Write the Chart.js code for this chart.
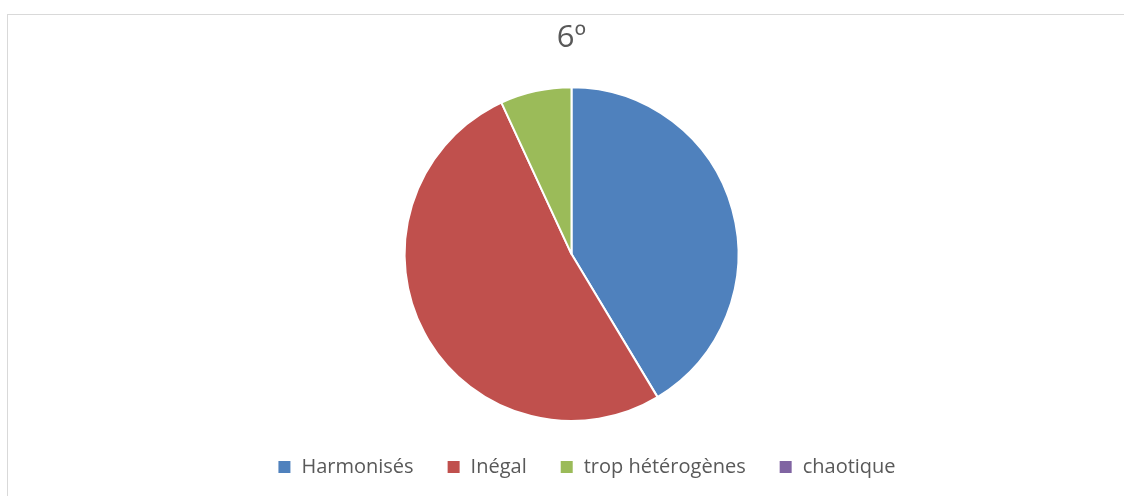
<!DOCTYPE html>
<html>
<head>
<meta charset="utf-8">
<script src="https://cdn.jsdelivr.net/npm/chart.js@4/dist/chart.umd.min.js"></script>
<style>
    html, body { margin: 0; padding: 0; background: #fff; }
    body { width: 1124px; height: 496px; position: relative; overflow: hidden; }
    #cadre { position: absolute; left: 7px; top: 14px; width: 1130px; height: 500px; border: 1px solid #d9d9d9; box-sizing: border-box; }
    #zone { position: absolute; left: 0; top: 0; width: 1124px; height: 496px; }
</style>
</head>
<body>
<div id="cadre"></div>
<div id="zone"><canvas id="chartNiveau"></canvas></div>
<script>
// Données
const categories = ['Harmonisés', 'Inégal', 'trop hétérogènes', 'chaotique'];
const effectifs = [12, 15, 2, 0];
const couleurs = ['#4F81BD', '#C0504D', '#9BBB59', '#8064A2'];
const titre = '6º';

// Dans l'original, le camembert et le titre sont un peu à gauche de la légende,
// et la légende est un peu plus basse
const ajusteBlocs = {
    id: 'ajusteBlocs',
    afterLayout(chart) {
        chart.chartArea.left -= 15;
        chart.chartArea.right -= 15;
        chart.titleBlock.left -= 15;
        chart.titleBlock.right -= 15;
        chart.legend.top += 2;
        chart.legend.bottom += 2;
    }
};

const ctx = document.getElementById('chartNiveau').getContext('2d');
const chartNiveau = new Chart(ctx, {
    type: 'pie',
    data: {
        labels: categories,
        datasets: [{
            data: effectifs,
            backgroundColor: couleurs,
            borderColor: '#ffffff',
            borderWidth: 2
        }]
    },
    options: {
        responsive: true,
        maintainAspectRatio: false,
        animation: false,
        layout: { padding: { top: 0, bottom: 11, left: 49, right: 0 } },
        plugins: {
            title: {
                display: true,
                text: titre,
                color: '#595959',
                font: { family: "'Open Sans', sans-serif", size: 31, weight: 'normal' },
                padding: { top: 20, bottom: 29 }
            },
            legend: {
                position: 'bottom',
                labels: {
                    color: '#595959',
                    font: { family: "'Open Sans', sans-serif", size: 20 },
                    boxWidth: 14,
                    boxHeight: 14,
                    padding: 33
                }
            },
            tooltip: { enabled: false }
        }
    },
    plugins: [ajusteBlocs]
});
</script>
</body>
</html>
